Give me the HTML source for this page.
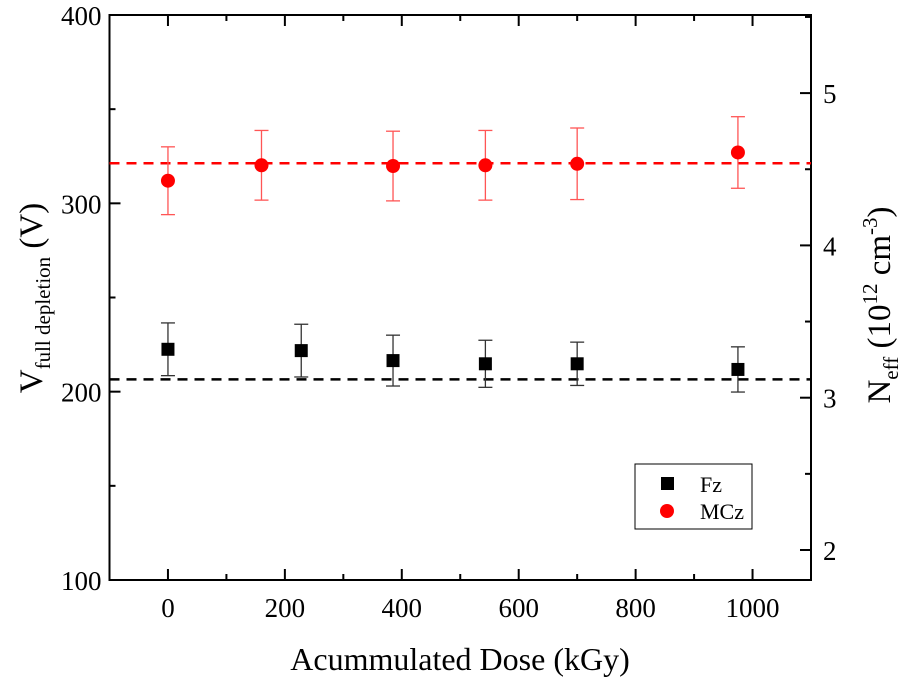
<!DOCTYPE html>
<html><head><meta charset="utf-8"><style>
body{margin:0;background:#fff;}
svg{display:block;font-family:"Liberation Serif",serif;}
</style></head><body>
<svg id="chart" width="901" height="680">
<g id="g"></g>
</svg>
<script>
const doseFz=[0,228,385,543,700,975];
const vFz=[222.5,221.8,216.5,214.8,214.8,211.8];
const errFz=[14,14,13.5,12.5,11.5,12];
const doseMCz=[0,160,385,543,700,975];
const vMCz=[312,320.2,319.8,320.2,321,327];
const errMCz=[18,18.5,18.5,18.5,19,19];
const fitFz=206.5;
const fitMCz=321.3;
const xTicks=[0,200,400,600,800,1000];
const yTicks=[100,200,300,400];
const rTicks=[2,3,4,5];

const L=109.5,R=811,T=15,B=580;
const sx=v=>L+(v+100)/1200*(R-L);
const sy=v=>B-(v-100)/300*(B-T);
const sr=v=>397.7-(v-3)*152.3;
const NS="http://www.w3.org/2000/svg";
const g=document.getElementById('g');
function el(t,a,txt){const e=document.createElementNS(NS,t);for(const k in a)e.setAttribute(k,a[k]);if(txt!=null)e.textContent=txt;g.appendChild(e);return e;}

let e;
e=el('rect',{x:L,y:T,width:R-L,height:B-T,fill:'none',stroke:'#000','stroke-width':2});



xTicks.forEach(v=>{
 el('line',{x1:sx(v),x2:sx(v),y1:B,y2:B-11,stroke:'#000','stroke-width':2});
 el('line',{x1:sx(v),x2:sx(v),y1:T,y2:T+11,stroke:'#000','stroke-width':2});
 el('line',{x1:sx(v+100),x2:sx(v+100),y1:B,y2:B-6,stroke:'#000','stroke-width':2});
 el('line',{x1:sx(v+100),x2:sx(v+100),y1:T,y2:T+6,stroke:'#000','stroke-width':2});
 e=el('text',{x:sx(v),y:B+37,'font-size':27,'text-anchor':'middle'},String(v));
 
 
});
yTicks.forEach(v=>{
 el('line',{x1:L,x2:L+11,y1:sy(v),y2:sy(v),stroke:'#000','stroke-width':2});
 if(v<400)el('line',{x1:L,x2:L+6,y1:sy(v+50),y2:sy(v+50),stroke:'#000','stroke-width':2});
 e=el('text',{x:L-8,y:sy(v)+10,'font-size':27,'text-anchor':'end'},String(v));
 
 
});
rTicks.forEach(v=>{
 el('line',{x1:R,x2:R-11,y1:sr(v),y2:sr(v),stroke:'#000','stroke-width':2});
 el('line',{x1:R,x2:R-6,y1:sr(v+0.5),y2:sr(v+0.5),stroke:'#000','stroke-width':2});
 e=el('text',{x:R+12,y:sr(v)+10,'font-size':27,'text-anchor':'start'},String(v));
 
 
});

e=el('line',{x1:L,x2:R,y1:sy(fitMCz),y2:sy(fitMCz),stroke:'#f00','stroke-width':2.5,'stroke-dasharray':'10,7'});


e=el('line',{x1:L,x2:R,y1:sy(fitFz),y2:sy(fitFz),stroke:'#000','stroke-width':2.5,'stroke-dasharray':'10,7'});



function errbar(x,y,er,c){
 const X=sx(x),y1=sy(y+er),y2=sy(y-er);
 el('line',{x1:X,x2:X,y1:y1,y2:y2,stroke:c,'stroke-width':1.3});
 el('line',{x1:X-7,x2:X+7,y1:y1,y2:y1,stroke:c,'stroke-width':1.3});
 el('line',{x1:X-7,x2:X+7,y1:y2,y2:y2,stroke:c,'stroke-width':1.3});
}
doseMCz.forEach((d,i)=>{
 errbar(d,vMCz[i],errMCz[i],'#f55');
 e=el('circle',{cx:sx(d),cy:sy(vMCz[i]),r:7,fill:'#f00'});
 
 
});
doseFz.forEach((d,i)=>{
 errbar(d,vFz[i],errFz[i],'#333');
 e=el('rect',{x:sx(d)-6.5,y:sy(vFz[i])-6.5,width:13,height:13,fill:'#000'});
 
 
});

e=el('rect',{x:635,y:464,width:117,height:65,fill:'#fff',stroke:'#000','stroke-width':1});


el('rect',{x:661,y:477,width:13,height:13,fill:'#000'});
e=el('text',{x:700,y:492,'font-size':22},'Fz');


el('circle',{cx:667,cy:511,r:7,fill:'#f00'});
e=el('text',{x:700,y:519,'font-size':22},'MCz');



e=el('text',{x:460,y:670,'font-size':32,'text-anchor':'middle'},'Acummulated Dose (kGy)');



e=document.createElementNS(NS,'text');
e.setAttribute('transform','translate(42,298) rotate(-90)');
e.setAttribute('text-anchor','middle');
e.setAttribute('font-size','33');
e.innerHTML='V<tspan font-size="21" dy="8">full depletion</tspan><tspan dy="-8"> (V)</tspan>';


g.appendChild(e);

e=document.createElementNS(NS,'text');
e.setAttribute('transform','translate(890,305) rotate(-90)');
e.setAttribute('text-anchor','middle');
e.setAttribute('font-size','33');
e.innerHTML='N<tspan font-size="21" dy="8">eff</tspan><tspan dy="-8"> (10</tspan><tspan font-size="21" dy="-13">12</tspan><tspan dy="13"> cm</tspan><tspan font-size="21" dy="-13">-3</tspan><tspan dy="13">)</tspan>';


g.appendChild(e);
</script>
</body></html>
